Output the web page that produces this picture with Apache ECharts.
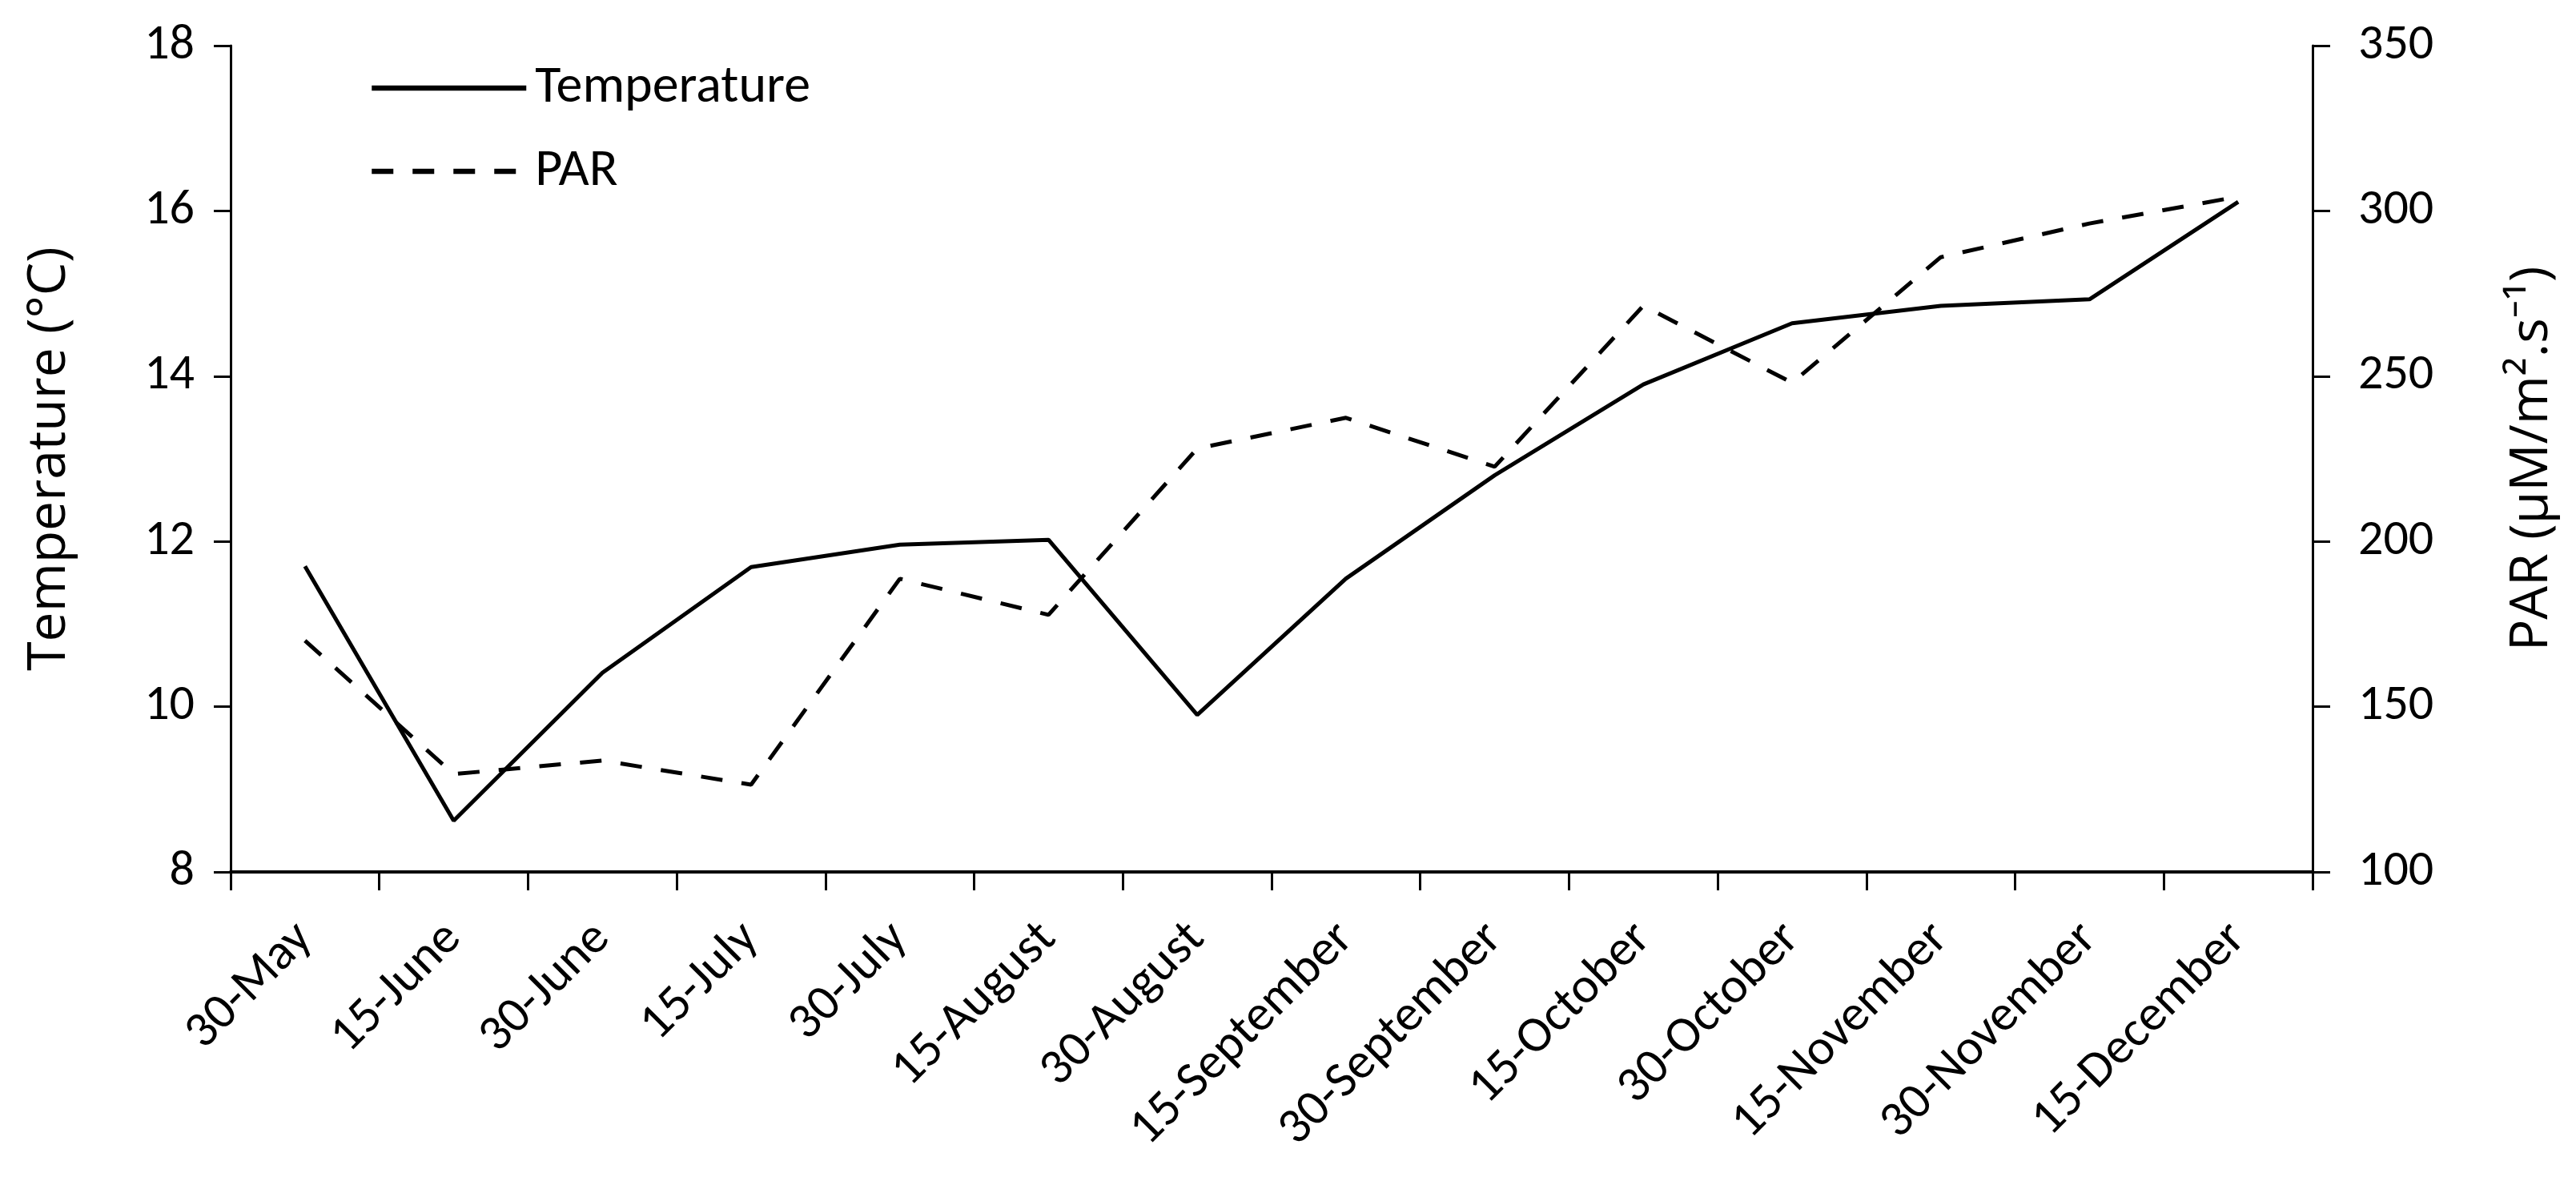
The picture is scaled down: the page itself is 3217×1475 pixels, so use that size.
<!DOCTYPE html>
<html>
<head>
<meta charset="utf-8">
<script src="https://cdn.jsdelivr.net/npm/echarts@6/dist/echarts.min.js"></script>
<style>
html,body{margin:0;padding:0;background:#fff;}
#c{width:3217px;height:1475px;}
</style>
</head>
<body>
<div id="c"></div>
<script>
const categories = ['30-May','15-June','30-June','15-July','30-July','15-August','30-August','15-September','30-September','15-October','30-October','15-November','30-November','15-December'];
const temperature = [11.70, 8.62, 10.41, 11.69, 11.96, 12.02, 9.90, 11.55, 12.80, 13.90, 14.64, 14.85, 14.93, 16.11];
const par = [170.0, 129.6, 133.7, 126.4, 188.7, 177.8, 228.1, 237.4, 222.6, 271.3, 248.0, 286.0, 296.2, 304.3];
const leftTicks = {min: 8, max: 18, interval: 2};
const rightTicks = {min: 100, max: 350, interval: 50};

const tickFont = "Carlito, Lato, 'Liberation Sans Narrow', sans-serif";
const titleFont = "'Open Sans', 'Noto Sans', sans-serif";

const chart = echarts.init(document.getElementById('c'), null, {renderer: 'canvas'});
chart.setOption({
  animation: false,
  backgroundColor: '#fff',
  grid: {left: 288, right: 329, top: 57, bottom: 386, containLabel: false},
  legend: {
    orient: 'vertical',
    left: 456, top: 72,
    itemWidth: 193, itemHeight: 30,
    itemGap: 38,
    data: ['Temperature', 'PAR'],
    itemStyle: {opacity: 0},
    lineStyle: {width: 6.5},
    textStyle: {fontFamily: tickFont, fontSize: 66, color: '#000', padding: [0,0,0,6], lineHeight: 66}
  },
  xAxis: {
    type: 'category',
    data: categories,
    boundaryGap: true,
    axisLine: {lineStyle: {color: '#000', width: 4}},
    axisTick: {show: true, interval: 0, length: 23, lineStyle: {color: '#000', width: 3}},
    axisLabel: {interval: 0, rotate: 45, margin: 74, fontFamily: tickFont, fontSize: 63, color: '#000'},
    splitLine: {show: false}
  },
  yAxis: [
    {
      type: 'value', position: 'left',
      min: leftTicks.min, max: leftTicks.max, interval: leftTicks.interval,
      name: 'Temperature (°C)', nameLocation: 'middle', nameGap: 193, nameRotate: 90,
      nameTextStyle: {fontFamily: titleFont, fontSize: 66, color: '#000'},
      axisLine: {show: true, lineStyle: {color: '#000', width: 3}},
      axisTick: {show: true, length: 21, lineStyle: {color: '#000', width: 3}},
      axisLabel: {margin: 45, fontFamily: tickFont, fontSize: 62, color: '#000'},
      splitLine: {show: false}
    },
    {
      type: 'value', position: 'right',
      min: rightTicks.min, max: rightTicks.max, interval: rightTicks.interval,
      name: 'PAR (μM/m².s⁻¹)', nameLocation: 'middle', nameGap: 241, nameRotate: 90,
      nameTextStyle: {fontFamily: titleFont, fontSize: 66, color: '#000'},
      axisLine: {show: true, lineStyle: {color: '#000', width: 3}},
      axisTick: {show: true, length: 22, lineStyle: {color: '#000', width: 3}},
      axisLabel: {margin: 57, fontFamily: tickFont, fontSize: 62, color: '#000'},
      splitLine: {show: false}
    }
  ],
  series: [
    {
      name: 'Temperature', type: 'line', yAxisIndex: 0,
      data: temperature, symbol: 'none', smooth: false,
      lineStyle: {color: '#000', width: 5, type: 'solid'},
      itemStyle: {color: '#000'}
    },
    {
      name: 'PAR', type: 'line', yAxisIndex: 1,
      data: par, symbol: 'none', smooth: false,
      lineStyle: {color: '#000', width: 5, type: [27, 24]},
      itemStyle: {color: '#000'}
    }
  ]
});
</script>
</body>
</html>
